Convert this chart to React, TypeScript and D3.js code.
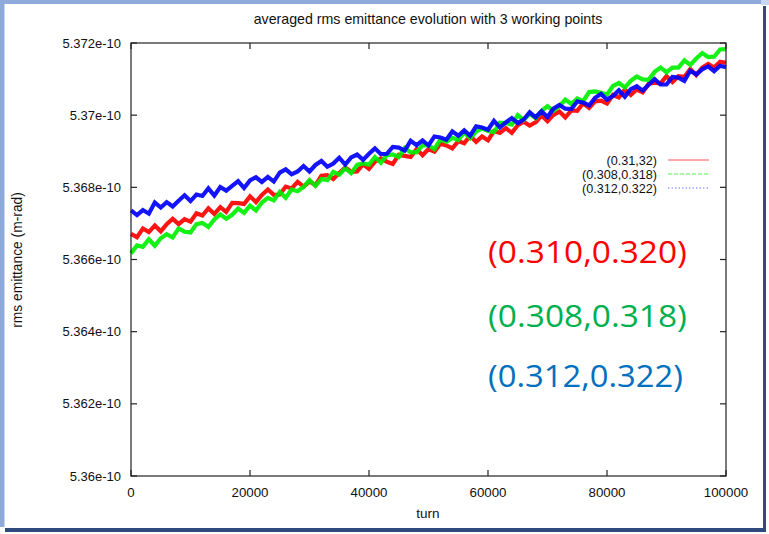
import React from "react";
import * as d3 from "d3";

const TITLE = "averaged rms emittance evolution with 3 working points";
const X_LABEL = "turn";
const Y_LABEL = "rms emittance (m-rad)";

// series are sampled every TURN_STEP turns; values in units of 1e-15 m·rad
const TURN_STEP = 1000;
const xTickValues = [0, 20000, 40000, 60000, 80000, 100000];
const yTickValues = [536000, 536200, 536400, 536600, 536800, 537000, 537200];
const yTickLabels = ["5.36e-10", "5.362e-10", "5.364e-10", "5.366e-10", "5.368e-10", "5.37e-10", "5.372e-10"];
const legendLabels = ["(0.31,32)", "(0.308,0.318)", "(0.312,0.322)"];
const annotationLabels = ["(0.310,0.320)", "(0.308,0.318)", "(0.312,0.322)"];

const redSeries = [
  536671, 536662, 536686, 536676, 536694, 536678, 536698, 536713, 536698, 536712,
  536705, 536728, 536722, 536742, 536726, 536745, 536732, 536757, 536756, 536754,
  536775, 536759, 536779, 536794, 536779, 536780, 536802, 536797, 536815, 536802,
  536816, 536806, 536832, 536834, 536823, 536840, 536855, 536843, 536844, 536864,
  536851, 536871, 536880, 536871, 536865, 536890, 536887, 536884, 536906, 536889,
  536906, 536899, 536921, 536916, 536908, 536928, 536922, 536943, 536926, 536941,
  536930, 536956, 536951, 536964, 536951, 536972, 536982, 536971, 536980, 536999,
  536983, 537001, 537010, 536994, 537013, 537012, 537033, 537020, 537038, 537040,
  537032, 537056, 537049, 537071, 537056, 537071, 537063, 537087, 537090, 537088,
  537108, 537092, 537108, 537106, 537128, 537111, 537132, 537142, 537132, 537148,
  537145,
];

const greenSeries = [
  536617, 536639, 536635, 536656, 536638, 536659, 536670, 536661, 536686, 536677,
  536675, 536698, 536701, 536690, 536711, 536725, 536713, 536724, 536741, 536729,
  536749, 536736, 536758, 536771, 536764, 536787, 536771, 536794, 536789, 536801,
  536820, 536804, 536823, 536820, 536843, 536835, 536853, 536839, 536862, 536866,
  536863, 536884, 536868, 536889, 536891, 536884, 536909, 536897, 536897, 536917,
  536916, 536906, 536933, 536926, 536937, 536931, 536952, 536936, 536954, 536963,
  536956, 536953, 536979, 536978, 536974, 537000, 536987, 537004, 536992, 537012,
  537025, 537012, 537025, 537043, 537031, 537046, 537039, 537064, 537066, 537062,
  537057, 537081, 537089, 537077, 537095, 537107, 537099, 537098, 537120, 537132,
  537119, 537132, 537132, 537152, 537139, 537157, 537172, 537161, 537162, 537182,
  537183,
];

const blueSeries = [
  536736, 536723, 536737, 536727, 536758, 536744, 536759, 536747, 536763, 536778,
  536762, 536780, 536776, 536797, 536777, 536801, 536791, 536804, 536817, 536798,
  536819, 536828, 536815, 536829, 536816, 536841, 536850, 536836, 536844, 536859,
  536844, 536862, 536873, 536857, 536866, 536882, 536863, 536883, 536891, 536876,
  536893, 536908, 536892, 536893, 536912, 536910, 536902, 536929, 536917, 536930,
  536916, 536941, 536938, 536932, 536955, 536943, 536958, 536943, 536969, 536966,
  536960, 536984, 536966, 536980, 536992, 536978, 536988, 537008, 536994, 537011,
  536995, 537018, 537028, 537018, 537017, 537038, 537035, 537027, 537048, 537059,
  537043, 537053, 537069, 537051, 537072, 537080, 537068, 537084, 537100, 537085,
  537085, 537106, 537104, 537095, 537123, 537113, 537127, 537135, 537122, 537137,
  537133,
];

const W = 769;
const H = 534;
const PLOT = { left: 131, right: 726, top: 43, bottom: 476 };
const FONT = "'Liberation Sans', Arial, Helvetica, sans-serif";

const seriesDefs = [
  { data: redSeries, color: "#ff0000", legendColor: "#ff5555", dash: "none", label: legendLabels[0], note: annotationLabels[0], noteColor: "#ff0000" },
  { data: greenSeries, color: "#00f000", legendColor: "#55ee55", dash: "4,2", label: legendLabels[1], note: annotationLabels[1], noteColor: "#00b050" },
  { data: blueSeries, color: "#0000ff", legendColor: "#7777ff", dash: "1.5,2", label: legendLabels[2], note: annotationLabels[2], noteColor: "#0070c0" },
];

export default function App() {
  const x = d3.scaleLinear().domain([0, 100000]).range([PLOT.left, PLOT.right]);
  const y = d3.scaleLinear().domain([536000, 537200]).range([PLOT.bottom, PLOT.top]);
  const line = d3
    .line<number>()
    .x((_, i) => x(i * TURN_STEP))
    .y((d) => y(d));

  const tick = 6;
  const legendX = 657;
  const legendY0 = 160;
  const legendDy = 14;
  const noteBaselines = [263, 327, 387];

  return (
    <svg
      width={W}
      height={H}
      viewBox={`0 0 ${W} ${H}`}
      style={{ position: "fixed", left: 0, top: 0, background: "#fff" }}
      fontFamily={FONT}
    >
      <rect x={0} y={0} width={W} height={H} fill="#fff" />
      {/* slide frame */}
      <rect x={0} y={0} width={761} height={4} fill="#8eaadb" />
      <rect x={761} y={0} width={8} height={5} fill="#c9d6ef" />
      <rect x={0} y={0} width={4} height={527} fill="#8eaadb" />
      <rect x={4} y={4} width={1} height={523} fill="#c9d6ef" />
      <rect x={763} y={6} width={3} height={526} fill="#2f4b7e" />
      <rect x={5} y={528} width={761} height={4} fill="#2f4b7e" />

      {/* title */}
      <text x={428} y={24} textAnchor="middle" fontSize={14.2} fill="#111">
        {TITLE}
      </text>

      {/* data: dense noisy traces */}
      <g>
        {seriesDefs.map((s, i) => (
          <path
            key={i}
            d={line(s.data) || ""}
            fill="none"
            stroke={s.color}
            strokeOpacity={0.92}
            strokeWidth={4.2}
            strokeLinejoin="miter"
            strokeMiterlimit={3}
          />
        ))}
      </g>

      {/* frame */}
      <rect
        x={PLOT.left}
        y={PLOT.top}
        width={PLOT.right - PLOT.left}
        height={PLOT.bottom - PLOT.top}
        fill="none"
        stroke="#222"
        strokeWidth={1.2}
      />

      {/* y ticks */}
      {yTickValues.map((v, i) => (
        <g key={"y" + i}>
          <line x1={PLOT.left} x2={PLOT.left + tick} y1={y(v)} y2={y(v)} stroke="#222" strokeWidth={1.2} />
          <line x1={PLOT.right} x2={PLOT.right - tick} y1={y(v)} y2={y(v)} stroke="#222" strokeWidth={1.2} />
          <text x={PLOT.left - 10} y={y(v) + 4.5} textAnchor="end" fontSize={13} fill="#111">
            {yTickLabels[i]}
          </text>
        </g>
      ))}

      {/* x ticks */}
      {xTickValues.map((v, i) => (
        <g key={"x" + i}>
          <line x1={x(v)} x2={x(v)} y1={PLOT.bottom} y2={PLOT.bottom - tick} stroke="#222" strokeWidth={1.2} />
          <line x1={x(v)} x2={x(v)} y1={PLOT.top} y2={PLOT.top + tick} stroke="#222" strokeWidth={1.2} />
          <text x={x(v)} y={PLOT.bottom + 21} textAnchor="middle" fontSize={13.3} fill="#111">
            {d3.format("d")(v)}
          </text>
        </g>
      ))}

      {/* axis labels */}
      <text x={428} y={518} textAnchor="middle" fontSize={13.5} fill="#111">
        {X_LABEL}
      </text>
      <text transform={`translate(22,260) rotate(-90)`} textAnchor="middle" fontSize={13.8} fill="#111">
        {Y_LABEL}
      </text>

      {/* legend */}
      {seriesDefs.map((s, i) => (
        <g key={"l" + i}>
          <text x={legendX} y={legendY0 + i * legendDy + 4.5} textAnchor="end" fontSize={12.6} fill="#111">
            {s.label}
          </text>
          <line
            x1={668}
            x2={709}
            y1={legendY0 + i * legendDy}
            y2={legendY0 + i * legendDy}
            stroke={s.legendColor}
            strokeWidth={1}
            strokeDasharray={s.dash}
          />
        </g>
      ))}

      {/* annotations */}
      {seriesDefs.map((s, i) => (
        <text
          key={"n" + i}
          x={488}
          y={noteBaselines[i]}
          fontSize={31}
          fill={s.noteColor}
          fontFamily="'Open Sans', 'Noto Sans', sans-serif"
          textLength={i === 2 ? 195 : 199}
          lengthAdjust="spacingAndGlyphs"
        >
          {s.note}
        </text>
      ))}
    </svg>
  );
}
